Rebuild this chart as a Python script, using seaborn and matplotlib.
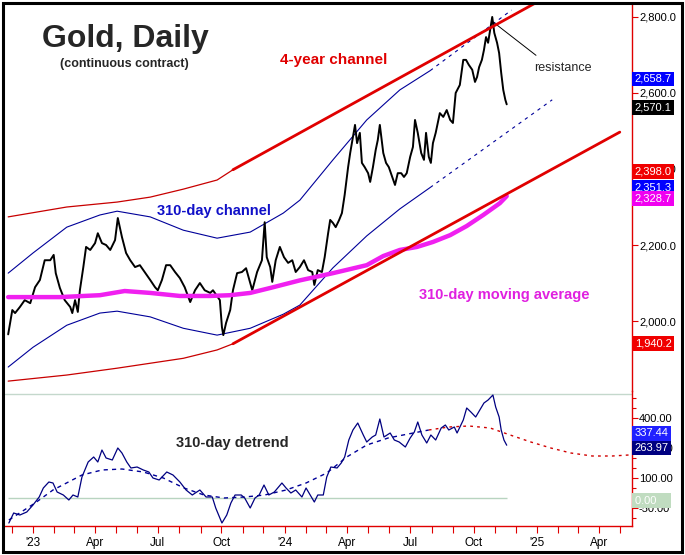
import matplotlib
matplotlib.use('Agg')
import matplotlib.pyplot as plt
import matplotlib.dates as mdates
import matplotlib.ticker as mticker
from matplotlib.patches import Rectangle
import pandas as pd
import seaborn as sns

sns.set_style('white')
plt.rcParams['font.family'] = ['Liberation Sans', 'DejaVu Sans']

base = pd.Timestamp('2023-01-01')

# gold price (days after 2023-01-01, price)
price_day = [-36, -30, -26, -19, -12, -4, 3, 10, 17, 25, 30, 33, 39, 46, 54, 57, 61, 65, 68, 73,
             77, 83, 90, 94, 100, 106, 112, 119, 123, 129, 135, 141, 148, 155, 162, 170, 177, 181, 187, 193,
             199, 206, 213, 220, 228, 235, 242, 249, 257, 261, 271, 274, 276, 280, 286, 290, 296, 303, 309, 315,
             318, 325, 332, 336, 339, 344, 347, 352, 358, 364, 370, 376, 381, 387, 393, 399, 405, 408, 413, 419,
             423, 428, 431, 435, 439, 444, 448, 452, 457, 460, 464, 467, 470, 474, 477, 481, 486, 489, 493, 497,
             500, 503, 508, 512, 516, 521, 525, 529, 534, 538, 542, 547, 551, 554, 558, 563, 567, 570, 574, 577,
             580, 584, 590, 595, 600, 605, 609, 613, 619, 624, 628, 632, 637, 641, 644, 647, 651, 654, 657, 660,
             663, 666, 669, 673, 676, 679, 682, 685, 687]
price_val = [1965, 2029, 2021, 2037, 2055, 2047, 2089, 2108, 2160, 2160, 2174, 2126, 2087, 2055, 2037, 2021, 2055, 2024, 2081, 2142,
             2195, 2187, 2205, 2231, 2205, 2200, 2187, 2213, 2271, 2221, 2179, 2160, 2142, 2147, 2129, 2108, 2089, 2081, 2108, 2147,
             2147, 2129, 2113, 2089, 2050, 2081, 2100, 2081, 2074, 2081, 2055, 1984, 1963, 1995, 2029, 2081, 2126, 2129, 2139, 2100,
             2081, 2129, 2160, 2260, 2168, 2142, 2103, 2160, 2195, 2168, 2153, 2160, 2129, 2142, 2160, 2134, 2129, 2095, 2134, 2129,
             2168, 2231, 2266, 2258, 2247, 2266, 2284, 2332, 2405, 2442, 2484, 2516, 2468, 2495, 2416, 2405, 2389, 2366, 2405, 2450,
             2476, 2516, 2442, 2416, 2405, 2379, 2358, 2389, 2389, 2379, 2389, 2432, 2458, 2529, 2495, 2442, 2424, 2495, 2432, 2416,
             2468, 2495, 2547, 2537, 2555, 2529, 2521, 2600, 2621, 2687, 2687, 2674, 2661, 2629, 2642, 2668, 2687, 2713, 2747, 2732,
             2766, 2800, 2758, 2732, 2705, 2653, 2608, 2582, 2570.1]

# 310-day moving average
ma_day = [-36, 10, 39, 97, 133, 170, 213, 257, 286, 315, 344, 387, 435, 484, 508, 532, 557, 580, 605, 629, 653, 677, 687]
ma_val = [2063, 2063, 2063, 2068, 2079, 2074, 2066, 2066, 2068, 2074, 2087, 2107, 2126, 2147, 2171, 2187, 2195, 2208,
          2226, 2250, 2279, 2310, 2328.7]

# 310-day channel
chan_day = [-36, 0, 49, 97, 122, 170, 218, 267, 315, 363, 387, 435, 484, 532, 576]
chan_hi = [2126, 2179, 2247, 2279, 2289, 2274, 2239, 2218, 2234, 2284, 2318, 2424, 2529, 2608, 2658.7]
chan_lo = [1879, 1931, 1989, 2021, 2026, 2011, 1981, 1963, 1981, 2018, 2042, 2140, 2224, 2295, 2351.3]
proj_hi_day = [576, 694]
proj_hi_val = [2658.7, 2818]
proj_lo_day = [576, 753]
proj_lo_val = [2351.3, 2582]

# 4-year channel
yr4_day = [-36, 49, 122, 170, 218, 267, 290]
yr4_hi = [2274, 2300, 2313, 2326, 2347, 2371, 2398.0]
yr4_lo = [1842, 1858, 1876, 1889, 1902, 1924, 1940.2]
trend_hi_day = [290, 730]
trend_hi_val = [2398.0, 2838]
trend_lo_day = [290, 851]
trend_lo_val = [1940.2, 2497]

# 310-day detrend
det_day = [-35, -28, -19, -9, 0, 9, 15, 23, 29, 35, 44, 52, 58, 65, 71, 80, 88, 94, 100, 106,
           115, 123, 129, 136, 142, 151, 160, 168, 174, 183, 194, 203, 213, 222, 231, 242, 251, 260, 265, 274,
           281, 287, 293, 302, 307, 315, 322, 328, 335, 342, 350, 361, 367, 374, 381, 390, 396, 402, 408, 413,
           421, 426, 432, 441, 447, 452, 458, 464, 471, 479, 484, 492, 497, 503, 509, 518, 524, 531, 540, 547,
           553, 558, 564, 571, 577, 584, 592, 598, 603, 611, 615, 624, 629, 635, 642, 648, 654, 660, 667, 671,
           676, 679, 683, 687]
det_val = [-125, -75, -85, -70, -35, 5, 50, 80, 75, 30, 15, -10, 15, 5, 105, 180, 205, 180, 240, 200,
           190, 250, 225, 180, 150, 155, 140, 130, 100, 90, 130, 115, 80, 40, 15, 40, 5, 5, -50, -125,
           -85, -25, 15, 15, 0, -50, 0, 15, 65, 15, 30, 75, 50, 25, 40, 5, 50, 15, -20, 15,
           15, 105, 155, 150, 175, 205, 290, 340, 375, 315, 280, 305, 315, 395, 305, 325, 290, 280, 255, 300,
           330, 380, 315, 275, 315, 290, 350, 365, 340, 355, 325, 390, 450, 430, 405, 440, 475, 490, 515, 455,
           405, 340, 290, 263.97]
cyc_day = [-35, 3, 29, 71, 100, 129, 160, 189, 219, 248, 277, 307, 336, 367, 396, 426, 455, 484, 515, 544, 574]
cyc_val = [-110, -25, 40, 115, 140, 145, 130, 100, 50, 15, 0, 5, 15, 40, 75, 125, 205, 265, 300, 320, 340]
fcst_day = [574, 603, 632, 663, 692, 722, 751, 780, 811, 840, 864]
fcst_val = [340, 355, 360, 350, 315, 280, 250, 225, 210, 210, 215]

main_tags = [2658.7, 2570.1, 2398.0, 2351.3, 2328.7, 1940.2]
main_tag_colors = ['#0000ff', '#000000', '#f00000', '#0000ff', '#f000f0', '#f00000']
det_tags = [337.44, 263.97, 0.00]
det_tag_colors = ['#2020ff', '#000080', '#c0dcc0']


def to_dates(days):
    return base + pd.to_timedelta(days, unit='D')


W, H = 685, 555
fig = plt.figure(figsize=(W / 100, H / 100), dpi=100)
L, R = 5, 632
ax = fig.add_axes([L / W, 1 - 391 / H, (R - L) / W, 387 / H])
ax2 = fig.add_axes([L / W, 1 - 526 / H, (R - L) / W, 135 / H], sharex=ax)

navy = '#000099'
kw = dict(estimator=None, sort=False, legend=False)

# main panel
sns.lineplot(x=to_dates(chan_day), y=chan_hi, ax=ax, color=navy, lw=0.8, zorder=2, **kw)
sns.lineplot(x=to_dates(chan_day), y=chan_lo, ax=ax, color=navy, lw=0.8, zorder=2, **kw)
sns.lineplot(x=to_dates(proj_hi_day), y=proj_hi_val, ax=ax, color=navy, lw=0.8, linestyle=(0, (3, 4)), zorder=2, **kw)
sns.lineplot(x=to_dates(proj_lo_day), y=proj_lo_val, ax=ax, color=navy, lw=0.8, linestyle=(0, (3, 4)), zorder=2, **kw)
sns.lineplot(x=to_dates(price_day), y=price_val, ax=ax, color='black', lw=1.4, zorder=3, **kw)
sns.lineplot(x=to_dates(ma_day), y=ma_val, ax=ax, color='#f020f0', lw=3.2, zorder=4, **kw)
sns.lineplot(x=to_dates(yr4_day), y=yr4_hi, ax=ax, color='#c80000', lw=0.9, zorder=5, **kw)
sns.lineplot(x=to_dates(yr4_day), y=yr4_lo, ax=ax, color='#c80000', lw=0.9, zorder=5, **kw)
sns.lineplot(x=to_dates(trend_hi_day), y=trend_hi_val, ax=ax, color='#e00000', lw=2.0, zorder=5, **kw)
sns.lineplot(x=to_dates(trend_lo_day), y=trend_lo_val, ax=ax, color='#e00000', lw=2.0, zorder=5, **kw)

ax.set_xlim(base + pd.Timedelta(days=-40.6), base + pd.Timedelta(days=868.7))
ax.set_ylim(1816, 2834)

# detrend panel
ax2.axhline(520, color='#c4d8cc', lw=1)
ax2.hlines(0, to_dates([-36])[0], to_dates([687])[0], color='#b8d4c0', lw=1)
sns.lineplot(x=to_dates(cyc_day), y=cyc_val, ax=ax2, color=navy, lw=1, linestyle=(0, (3, 3)), **kw)
sns.lineplot(x=to_dates(fcst_day), y=fcst_val, ax=ax2, color='#d00000', lw=1, linestyle=(0, (2, 3)), **kw)
sns.lineplot(x=to_dates(det_day), y=det_val, ax=ax2, color='#000080', lw=0.9, **kw)
ax2.set_ylim(-140, 535)

for a in (ax, ax2):
    a.set_xlabel('')
    a.set_ylabel('')
    a.set_facecolor('none')
    for s in ('left', 'top', 'bottom'):
        a.spines[s].set_visible(False)
    a.spines['right'].set_color('#e00000')
    a.spines['right'].set_linewidth(1.0)
    a.yaxis.tick_right()
    a.tick_params(axis='y', which='both', colors='#e00000', labelcolor='black',
                  labelsize=8, direction='out', length=4, width=0.8, pad=1)

ax2.spines['bottom'].set_visible(True)
ax2.spines['bottom'].set_color('#e00000')
ax2.spines['bottom'].set_linewidth(1.0)

ax.yaxis.set_major_locator(mticker.MultipleLocator(200))
ax.yaxis.set_major_formatter(mticker.FuncFormatter(lambda v, p: f'{v:,.1f}'))
ax2.yaxis.set_major_locator(mticker.FixedLocator([-50, 100, 250, 400]))
ax2.yaxis.set_minor_locator(mticker.MultipleLocator(50))
ax2.yaxis.set_major_formatter(mticker.FuncFormatter(lambda v, p: f'{v:,.2f}'))
ax2.tick_params(axis='y', which='minor', length=3)


def qfmt(x, pos):
    d = mdates.num2date(x)
    return "'" + d.strftime('%y') if d.month == 1 else d.strftime('%b')


ax2.xaxis.set_major_locator(mdates.MonthLocator(bymonth=[1, 4, 7, 10]))
ax2.xaxis.set_minor_locator(mdates.MonthLocator())
ax2.xaxis.set_major_formatter(mticker.FuncFormatter(qfmt))
ax2.tick_params(axis='x', which='both', colors='#e00000', labelcolor='black', labelsize=8.5,
                direction='out', length=5, width=0.8, pad=3, bottom=True)
ax.tick_params(axis='x', which='both', bottom=False, labelbottom=False)

# value tags on the right axis
offsets = [-6, -2, -1, 0, -2, 0]
for v, c, off in zip(main_tags, main_tag_colors, offsets):
    ax.annotate(f'{v:,.1f}', xy=(1.0, v), xycoords=('axes fraction', 'data'),
                xytext=(2, off), textcoords='offset points', ha='left', va='center',
                fontsize=8, color='white', annotation_clip=False,
                bbox=dict(boxstyle='square,pad=0.22', fc=c, ec='none'))
for v, c in zip(det_tags, det_tag_colors):
    txt = f'{v:,.2f}'
    if len(txt) < 6:
        txt = txt + '    '
    ax2.annotate(txt, xy=(1.0, v), xycoords=('axes fraction', 'data'),
                 xytext=(2, -2), textcoords='offset points', ha='left', va='center',
                 fontsize=8, color='white', annotation_clip=False,
                 bbox=dict(boxstyle='square,pad=0.22', fc=c, ec='none'))


def fx(x):
    return x / W


def fy(y):
    return 1 - y / H


fig.text(fx(125), fy(47), 'Gold, Daily', fontsize=23, fontweight='bold', ha='center', va='baseline')
fig.text(fx(124), fy(64), '(continuous contract)', fontsize=9, fontweight='bold', ha='center', va='center')
fig.text(fx(334), fy(60), '4-year channel', fontsize=11, fontweight='bold', color='#e00000', ha='center', va='center')
fig.text(fx(214), fy(211), '310-day channel', fontsize=10.5, fontweight='bold', color='#1010c8', ha='center', va='center')
fig.text(fx(504), fy(295), '310-day moving average', fontsize=10.5, fontweight='bold', color='#e020e0',
         ha='center', va='center')
fig.text(fx(232), fy(443), '310-day detrend', fontsize=10.5, fontweight='bold', ha='center', va='center')

ax.annotate('resistance', xy=(to_dates([667])[0], 2787), xytext=(563, H - 68), textcoords='figure pixels',
            fontsize=9, ha='center', va='center', annotation_clip=False,
            arrowprops=dict(arrowstyle='-', color='black', lw=0.7, relpos=(0.18, 1.0), shrinkA=4, shrinkB=0))

fig.add_artist(Rectangle((2.5 / W, 3 / H), 679.5 / W, 549 / H, transform=fig.transFigure,
                         fill=False, ec='black', lw=2.2))

fig.savefig('out.png', dpi=100, facecolor='white')
